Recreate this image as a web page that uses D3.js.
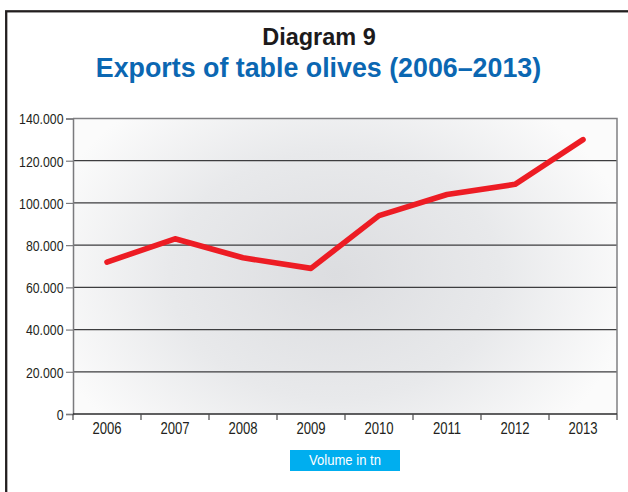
<!DOCTYPE html>
<html>
<head>
<meta charset="utf-8">
<script src="https://cdn.jsdelivr.net/npm/d3@7"></script>
<style>
  html, body { margin: 0; padding: 0; background: #ffffff; }
  svg { display: block; }
</style>
</head>
<body>
<svg id="chart" width="628" height="492"></svg>
<script>
// Exports of table olives, tonnes per year
const years = ["2006", "2007", "2008", "2009", "2010", "2011", "2012", "2013"];
const volumes = [72000, 83000, 74000, 69000, 94000, 104000, 108800, 130000];
const yTicks = [0, 20000, 40000, 60000, 80000, 100000, 120000, 140000];

const titleText = "Diagram 9";
const subtitleText = "Exports of table olives (2006\u20132013)";
const legendText = "Volume in tn";

const svg = d3.select("#chart");
const plot = { left: 73, right: 617, top: 118.5, bottom: 414 };
const sansFont = "'Liberation Sans', Arial, sans-serif";
const narrow = 0.82; // horizontal squeeze for the condensed axis lettering

const x = d3.scaleBand().domain(years).range([plot.left, plot.right]).padding(0);
const y = d3.scaleLinear().domain([0, 140000]).range([plot.bottom, plot.top]);

// Thousands with a dot separator: 140.000
const fmt = d3.formatLocale({ decimal: ",", thousands: ".", grouping: [3], currency: ["", ""] }).format(",d");

// Outer frame
svg.append("rect")
  .attr("x", 6.2).attr("y", 11.3)
  .attr("width", 700).attr("height", 600)
  .attr("fill", "none").attr("stroke", "#231f20").attr("stroke-width", 2.3);

// Titles
svg.append("text")
  .attr("x", 319).attr("y", 45)
  .attr("text-anchor", "middle")
  .attr("font-family", sansFont)
  .attr("font-weight", "bold").attr("font-size", 23.5)
  .attr("fill", "#1c1a1b")
  .text(titleText);

svg.append("text")
  .attr("x", 318.5).attr("y", 77.3)
  .attr("text-anchor", "middle")
  .attr("font-family", sansFont)
  .attr("font-weight", "bold").attr("font-size", 26.8)
  .attr("fill", "#0b67b2")
  .text(subtitleText);

// Plot background: soft radial shading
const defs = svg.append("defs");
const grad = defs.append("radialGradient")
  .attr("id", "plotShade")
  .attr("gradientUnits", "userSpaceOnUse")
  .attr("cx", 335).attr("cy", 275).attr("r", 300)
  .attr("gradientTransform", "translate(335,275) scale(1,0.75) translate(-335,-275)");
grad.append("stop").attr("offset", "0%").attr("stop-color", "#dcdde0");
grad.append("stop").attr("offset", "55%").attr("stop-color", "#e8e9eb");
grad.append("stop").attr("offset", "100%").attr("stop-color", "#fbfbfb");

svg.append("rect")
  .attr("x", plot.left).attr("y", plot.top)
  .attr("width", plot.right - plot.left).attr("height", plot.bottom - plot.top)
  .attr("fill", "url(#plotShade)");

// Horizontal gridlines
svg.append("g")
  .selectAll("line")
  .data(yTicks.filter(d => d > 0 && d < 140000))
  .join("line")
  .attr("x1", plot.left).attr("x2", plot.right)
  .attr("y1", d => y(d)).attr("y2", d => y(d))
  .attr("stroke", "#3d3d3f").attr("stroke-width", 1.3);

// Top and right border of the plot
svg.append("path")
  .attr("d", `M${plot.left},${y(140000)}H${plot.right}V${plot.bottom}`)
  .attr("fill", "none").attr("stroke", "#808083").attr("stroke-width", 1.5);

// Y axis
const yAxis = svg.append("g")
  .attr("transform", `translate(${plot.left},0)`)
  .call(d3.axisLeft(y).tickValues(yTicks).tickFormat(fmt).tickSize(7).tickPadding(2));
yAxis.select(".domain").attr("stroke", "#7a7a7d").attr("stroke-width", 1.5);
yAxis.selectAll(".tick line").attr("stroke", "#7a7a7d").attr("stroke-width", 1.2);
yAxis.selectAll(".tick text")
  .attr("font-family", sansFont)
  .attr("font-size", 15).attr("fill", "#231f20")
  .attr("x", -9.5 / narrow)
  .attr("dy", "0.36em")
  .attr("transform", `scale(${narrow},1)`);

// X axis line with ticks at category boundaries
svg.append("line")
  .attr("x1", plot.left).attr("x2", plot.right)
  .attr("y1", plot.bottom).attr("y2", plot.bottom)
  .attr("stroke", "#2b2b2d").attr("stroke-width", 1.6);

const bounds = years.map(d => x(d)).concat([x(years[years.length - 1]) + x.bandwidth()]);
svg.append("g")
  .selectAll("line")
  .data(bounds)
  .join("line")
  .attr("x1", d => d).attr("x2", d => d)
  .attr("y1", plot.bottom).attr("y2", plot.bottom + 6)
  .attr("stroke", "#4a4a4c").attr("stroke-width", 1.2);

svg.append("g")
  .selectAll("text")
  .data(years)
  .join("text")
  .attr("transform", d => `translate(${x(d) + x.bandwidth() / 2},434) scale(${narrow},1)`)
  .attr("text-anchor", "middle")
  .attr("font-family", sansFont)
  .attr("font-size", 16).attr("fill", "#231f20")
  .text(d => d);

// Export volume line
const line = d3.line()
  .x((d, i) => x(years[i]) + x.bandwidth() / 2)
  .y(d => y(d));

svg.append("path")
  .datum(volumes)
  .attr("d", line)
  .attr("fill", "none")
  .attr("stroke", "#ed1c24")
  .attr("stroke-width", 5.6)
  .attr("stroke-linejoin", "round")
  .attr("stroke-linecap", "round");

// Legend tag
svg.append("rect")
  .attr("x", 290).attr("y", 450)
  .attr("width", 110).attr("height", 21)
  .attr("fill", "#00aeef");

svg.append("text")
  .attr("transform", "translate(345,465) scale(0.9,1)")
  .attr("text-anchor", "middle")
  .attr("font-family", sansFont)
  .attr("font-size", 14.5).attr("fill", "#ffffff")
  .text(legendText);
</script>
</body>
</html>
